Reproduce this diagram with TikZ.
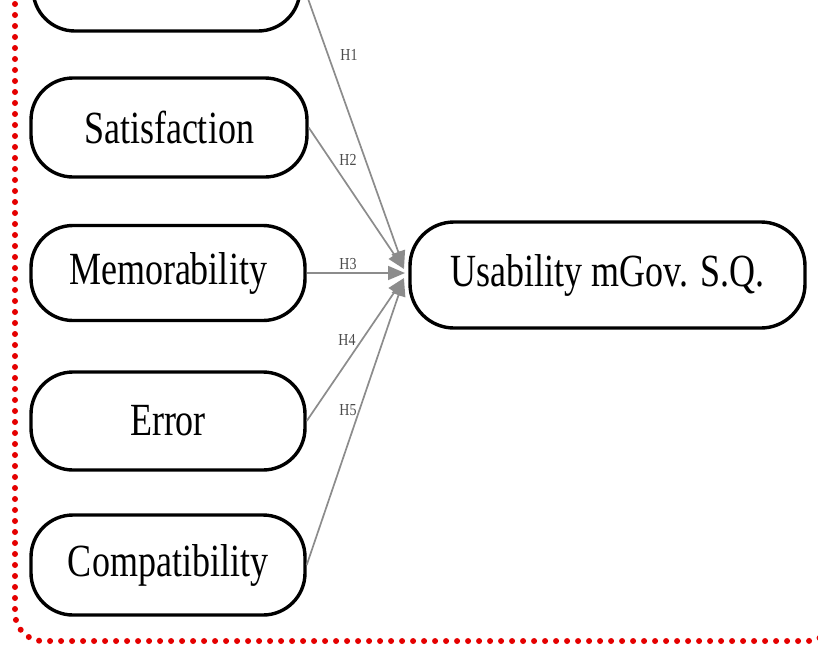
\documentclass[tikz,border=0pt]{standalone}
\usepackage{fontspec}
\usepackage{graphicx}
\setmainfont{Liberation Serif}
\usetikzlibrary{arrows.meta}
\newcommand\talltext[1]{\scalebox{1}[1.28]{#1}}
\newcommand\hltext[1]{\scalebox{1}[1.2]{#1}}
\begin{document}
\begin{tikzpicture}[x=1pt,y=-1pt,
  box/.style={draw=black,line width=3.4pt,rounded corners=42pt,fill=white,inner sep=0pt,
    font=\fontsize{36}{40}\selectfont},
  hyp/.style={draw=black!45,line width=1.7pt,-{Triangle[length=17pt,width=14pt]},color=black!45},
  hlab/.style={font=\fontsize{14}{15}\selectfont,text=black!70,inner sep=0pt}]
\useasboundingbox (0,0) rectangle (818,646);
\clip (0,0) rectangle (818,646);
\fill[white] (0,0) rectangle (818,646);
% red dotted frame
\draw[red!90!black,line width=6pt,line cap=round,dash pattern=on 0pt off 11pt,rounded corners=28pt]
  (15,-40) -- (15,641) -- (835,641) -- (835,-40);
% nodes
\node[box,minimum width=267pt,minimum height=100pt] (top) at (166.5,-19) {};
\node[box,minimum width=276pt,minimum height=99pt] (sat) at (169,127.5) {\talltext{Satisfaction}};
\node[box,minimum width=274pt,minimum height=95pt] (mem) at (168,273) {\talltext{Memorability}};
\node[box,minimum width=274pt,minimum height=98pt] (err) at (168,421) {\talltext{Error}};
\node[box,minimum width=274pt,minimum height=100pt] (com) at (168,565) {\talltext{Compatibility}};
\node[box,minimum width=395pt,minimum height=106pt,rounded corners=44pt] (usa) at (607.5,275) {\talltext{Usability mGov. S.Q.}};
% arrow tips
\coordinate (t1) at (404,268);
\coordinate (t2) at (404,269);
\coordinate (t3) at (405,273);
\coordinate (t4) at (404,278);
\coordinate (t5) at (404,279);
\draw[hyp] (top.east) -- (t1);
\draw[hyp] (sat.east) -- (t2);
\draw[hyp] (mem.east) -- (t3);
\draw[hyp] (err.east) -- (t4);
\draw[hyp] (com.east) -- (t5);
% labels
\node[hlab] (h1) at (349,55) {\hltext{H1}};
\node[hlab] (h2) at (348,160) {\hltext{H2}};
\node[hlab] (h3) at (348,264) {\hltext{H3}};
\node[hlab] (h4) at (347,340) {\hltext{H4}};
\node[hlab] (h5) at (348,410) {\hltext{H5}};
\end{tikzpicture}
\end{document}
